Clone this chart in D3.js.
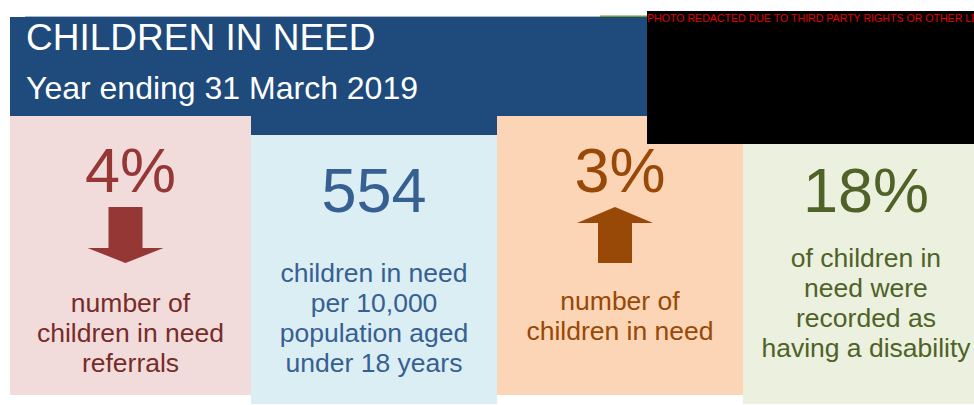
<!DOCTYPE html>
<html>
<head>
<meta charset="utf-8">
<script src="https://cdn.jsdelivr.net/npm/d3@7"></script>
<style>
  body { margin: 0; background: #fff; }
  svg { display: block; font-family: "Liberation Sans", Arial, sans-serif; }
</style>
</head>
<body>
<svg id="chart"></svg>
<script>
// data
const panels = ["referrals", "rate", "cin", "disability"];
const figures = ["4%", "554", "3%", "18%"];
const arrows = ["down", null, "up", null];
const captions = [
  ["number of", "children in need", "referrals"],
  ["children in need", "per 10,000", "population aged", "under 18 years"],
  ["number of", "children in need"],
  ["of children in", "need were", "recorded as", "having a disability"]
];
const title = "CHILDREN IN NEED";
const subtitle = "Year ending 31 March 2019";
const redactNote = "PHOTO REDACTED DUE TO THIRD PARTY RIGHTS OR OTHER LEGAL ISSUES";

const W = 974, H = 405;
const fills = ["#f2dcdb", "#dbeef4", "#fbd5b5", "#ebf1de"];
const figColor = ["#953735", "#376092", "#984807", "#4f6228"];
const textColor = ["#772c2a", "#376092", "#984807", "#4f6228"];
const panelTop = [116, 135, 116, 144];
const panelBottom = [395, 404, 395, 404];
const figBase = [192, 212, 192, 212];
const capBase = [312, 282, 310, 267];

const svg = d3.select("#chart").attr("width", W).attr("height", H);

// last panel runs past the right edge, first one is trimmed at the left margin
const x = d3.scaleBand().domain(panels).range([5, 989]).paddingInner(0);
const left = d => Math.max(x(d), 10);
const mid = d => (left(d) + x(d) + x.bandwidth()) / 2;

// thin rule above the header
svg.append("line").attr("x1", 25).attr("x2", 600).attr("y1", 16.5).attr("y2", 16.5)
  .attr("stroke", "#a9b7c6").attr("stroke-width", 1);
svg.append("line").attr("x1", 600).attr("x2", 647).attr("y1", 16.5).attr("y2", 16.5)
  .attr("stroke", "#6f9a3a").attr("stroke-width", 2);

// header
svg.append("rect").attr("x", 10).attr("y", 17).attr("width", 637).attr("height", 118)
  .attr("fill", "#1f4a7c");
svg.append("text").attr("x", 26).attr("y", 50).attr("fill", "#fff")
  .attr("font-size", 37).text(title);
svg.append("text").attr("x", 26).attr("y", 99).attr("fill", "#fff")
  .attr("font-size", 32).text(subtitle);

// panels
const g = svg.selectAll("g.panel").data(panels).enter().append("g").attr("class", "panel");

g.append("rect")
  .attr("x", d => left(d))
  .attr("y", (d, i) => panelTop[i])
  .attr("width", d => x(d) + x.bandwidth() - left(d))
  .attr("height", (d, i) => panelBottom[i] - panelTop[i])
  .attr("fill", (d, i) => fills[i]);

g.append("text")
  .attr("x", d => mid(d))
  .attr("y", (d, i) => figBase[i])
  .attr("text-anchor", "middle")
  .attr("font-size", 63)
  .attr("fill", (d, i) => figColor[i])
  .text((d, i) => figures[i]);

g.each(function(d, i) {
  const cx = mid(d);
  d3.select(this).selectAll("text.cap").data(captions[i]).enter().append("text")
    .attr("class", "cap")
    .attr("x", cx)
    .attr("y", (t, j) => capBase[i] + j * 30)
    .attr("text-anchor", "middle")
    .attr("font-size", 26.5)
    .attr("fill", textColor[i])
    .text(t => t);

  if (arrows[i]) {
    const ax = cx - 5, top = 207, bot = 263;
    const shaft = 17, head = 38, headLen = arrows[i] === "down" ? 15 : 16;
    let pts;
    if (arrows[i] === "down") {
      pts = [[ax - shaft, top], [ax + shaft, top], [ax + shaft, bot - headLen], [ax + head, bot - headLen],
             [ax, bot], [ax - head, bot - headLen], [ax - shaft, bot - headLen]];
    } else {
      pts = [[ax, top], [ax + head, top + headLen], [ax + shaft, top + headLen], [ax + shaft, bot],
             [ax - shaft, bot], [ax - shaft, top + headLen], [ax - head, top + headLen]];
    }
    d3.select(this).append("path")
      .attr("d", d3.line()(pts) + "Z")
      .attr("fill", figColor[i]);
  }
});

// redacted photo block
svg.append("clipPath").attr("id", "redact")
  .append("rect").attr("x", 647).attr("y", 11).attr("width", W - 647).attr("height", 133);
svg.append("rect").attr("x", 647).attr("y", 11).attr("width", W - 647).attr("height", 133)
  .attr("fill", "#000");
svg.append("text").attr("x", 647).attr("y", 22).attr("fill", "#e00000")
  .attr("clip-path", "url(#redact)")
  .attr("font-size", 10.6).text(redactNote);
</script>
</body>
</html>
